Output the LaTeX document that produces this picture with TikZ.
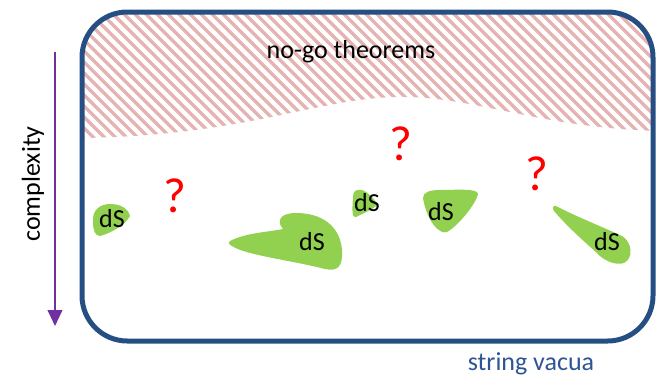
\documentclass[tikz,border=0pt]{standalone}
\usepackage{fontspec}
\setmainfont{Carlito}
\usetikzlibrary{arrows.meta}
\definecolor{boxc}{RGB}{37,79,131}
\definecolor{hatchc}{RGB}{229,180,178}
\definecolor{dsgreen}{RGB}{146,208,80}
\definecolor{arrowc}{RGB}{112,48,160}
\definecolor{labelc}{RGB}{47,84,150}
\tikzset{
  blob/.style={fill=dsgreen, draw=none},
  dslabel/.style={font=\fontsize{19.5}{22}\selectfont, inner sep=0pt},
  qmark/.style={font=\fontsize{37}{40}\selectfont, text=red, inner sep=0pt},
  bigtext/.style={font=\fontsize{19.5}{22}\selectfont, inner sep=0pt}
}
\begin{document}
\begin{tikzpicture}[x=0.75pt,y=-0.75pt]
\useasboundingbox (0,0) rectangle (664,379);
% hatched no-go region
\begin{scope}
  \clip[rounded corners=34pt] (82,12) rectangle (653,341);
  \clip (60,0) -- (60,138) -- (80,138) .. controls (250,136) and (320,96) .. (405,97)
        .. controls (480,98) and (540,128) .. (660,131) -- (660,0) -- cycle;
  \foreach \i in {-30,...,70} {
    \draw[hatchc, line width=2.6pt] (\i*11,0) -- ++(220,220);
  }
\end{scope}
% frame
\draw[boxc, line width=3.75pt, rounded corners=34pt] (82,12) rectangle (653,341);
\node[bigtext] (nogo) at (351,52) {no-go theorems};
\node[bigtext, text=labelc] (vacua) at (531,364) {string vacua};
% complexity arrow
\coordinate (atop) at (55,52);
\coordinate (abot) at (55,326);
\draw[arrowc, line width=1.5pt, -{Triangle[width=11pt,length=12pt]}] (atop) -- (abot);
\node[bigtext, rotate=90] (cx) at (33,184) {complexity};
% blobs
\fill[blob] (93,222) .. controls (92,210) and (100,204) .. (110,204)
  .. controls (120,204) and (128,208) .. (130,216)
  .. controls (126,224) and (112,233) .. (100,236)
  .. controls (95,236) and (93,230) .. cycle;
\fill[blob] (230,241) .. controls (245,233) and (268,232) .. (283,229)
  .. controls (276,221) and (280,213) .. (296,213)
  .. controls (322,213) and (340,226) .. (342,250)
  .. controls (343,266) and (338,272) .. (325,269)
  .. controls (290,260) and (245,255) .. (232,246)
  .. controls (228,244) and (228,242) .. cycle;
\fill[blob] (353,197) .. controls (353,191) and (356,189) .. (362,190)
  .. controls (368,192) and (376,200) .. (377,205)
  .. controls (372,210) and (362,214) .. (356,217)
  .. controls (352,218) and (352,212) .. cycle;
\fill[blob] (423,198) .. controls (423,192) and (430,190) .. (440,190)
  .. controls (455,190) and (478,188) .. (478,194)
  .. controls (476,204) and (458,226) .. (447,232)
  .. controls (440,235) and (427,222) .. cycle;
\fill[blob] (556,206) .. controls (575,216) and (605,228) .. (622,236)
  .. controls (632,242) and (634,258) .. (624,263)
  .. controls (615,266) and (603,260) .. (597,253)
  .. controls (580,238) and (565,224) .. (554,211)
  .. controls (552,208) and (553,205) .. cycle;
% labels
\node[dslabel] (ds1) at (112,219) {dS};
\node[dslabel] (ds2) at (312,242) {dS};
\node[dslabel] (ds3) at (367,203) {dS};
\node[dslabel] (ds4) at (441,212) {dS};
\node[dslabel] (ds5) at (607,242) {dS};
\node[qmark] (q1) at (175,196) {?};
\node[qmark] (q2) at (401,144) {?};
\node[qmark] (q3) at (537,174) {?};
\end{tikzpicture}
\end{document}
